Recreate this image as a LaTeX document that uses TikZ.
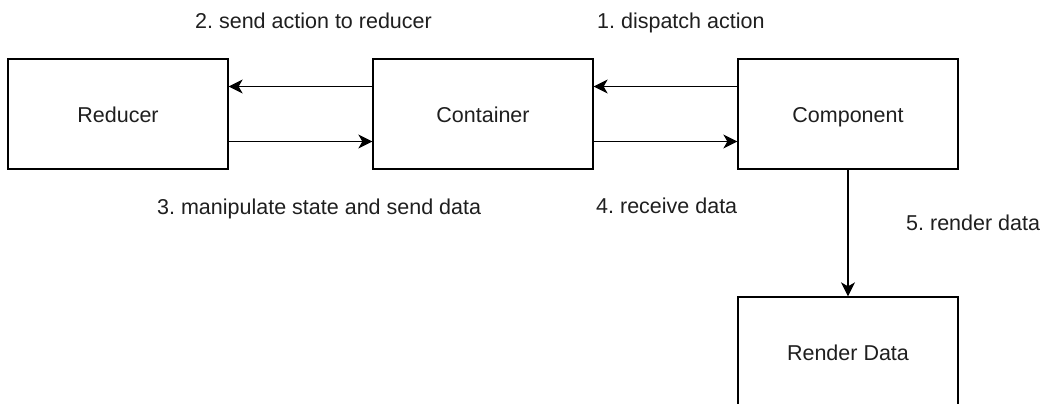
\documentclass[tikz,border=0pt]{standalone}
\usepackage{fontspec}
\setmainfont{Liberation Sans}
\usetikzlibrary{arrows.meta}
\begin{document}
\frenchspacing
\begin{tikzpicture}[x=1pt,y=-1pt,
  every node/.style={font=\fontsize{21.5}{25}\selectfont, text=black!88},
  box/.style={draw, line width=1.3pt, minimum width=220pt, minimum height=110pt, inner sep=0pt, text height=17pt, text depth=0pt},
  lbl/.style={anchor=base west, inner sep=0pt},
  arr/.style={line width=1.3pt, -{Stealth[length=14pt,width=14pt,inset=4pt]}}]
\clip (0,0) rectangle (1050,404);
\fill[white] (0,0) rectangle (1050,404);
\node[box] (reducer) at (118,114) {Reducer};
\node[box] (container) at (483,114) {Container};
\node[box] (component) at (848,114) {Component};
\node[box] (render) at (848,352) {Render Data};
\draw[arr] ([yshift=27.5pt]container.west) -- ([yshift=27.5pt]reducer.east);
\draw[arr] ([yshift=-27.5pt]reducer.east) -- ([yshift=-27.5pt]container.west);
\draw[arr] ([yshift=27.5pt]component.west) -- ([yshift=27.5pt]container.east);
\draw[arr] ([yshift=-27.5pt]container.east) -- ([yshift=-27.5pt]component.west);
\draw[arr] (component.south) -- (render.north);
\node[lbl] (l2) at (195,29) {2. send action to reducer};
\node[lbl] (l1) at (597,29) {1. dispatch action};
\node[lbl] (l3) at (157,214) {3. manipulate state and send data};
\node[lbl] (l4) at (596,213) {4. receive data};
\node[lbl] (l5) at (906,230) {5. render data};
\end{tikzpicture}
\end{document}
